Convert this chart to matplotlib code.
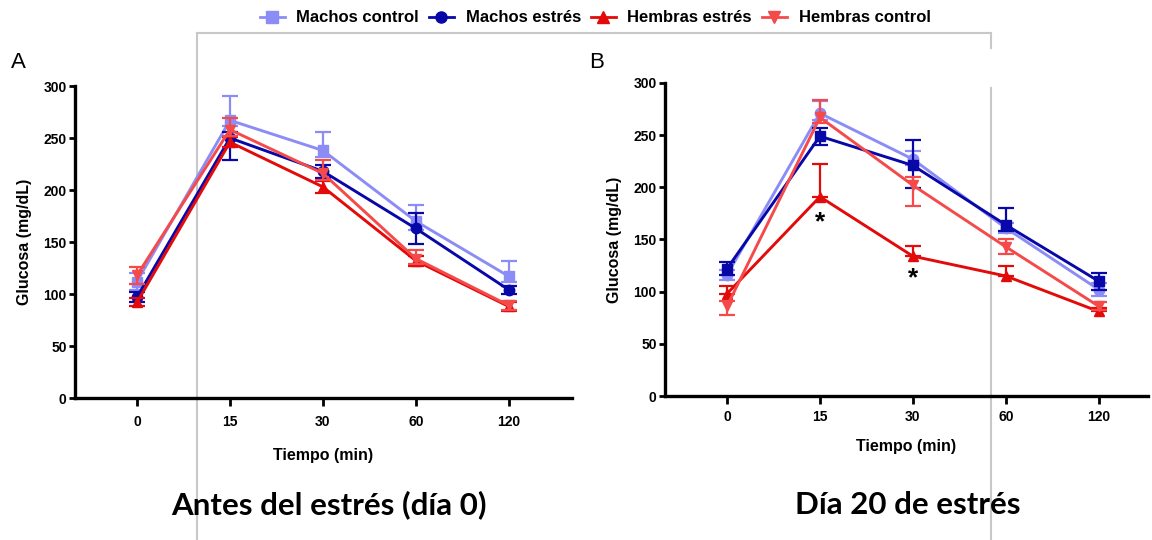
import matplotlib
matplotlib.use("Agg")
import matplotlib.pyplot as plt
from matplotlib.lines import Line2D

# --- data ---------------------------------------------------------------
tiempos = ["0", "15", "30", "60", "120"]

# panel A: antes del estrés (día 0)
a_mc = [112, 267, 238, 170, 117]
a_mc_lo = [8, 5, 6, 8, 5]
a_mc_hi = [8, 23, 18, 16, 15]
a_me = [97, 250, 218, 163, 104]
a_me_lo = [5, 21, 6, 15, 4]
a_me_hi = [5, 6, 6, 15, 4]
a_he = [92, 246, 203, 132, 88]
a_he_lo = [4, 5, 6, 5, 4]
a_he_hi = [4, 5, 6, 5, 4]
a_hc = [118, 258, 216, 134, 89]
a_hc_lo = [8, 6, 6, 5, 4]
a_hc_hi = [8, 11, 13, 8, 4]

# panel B: día 20 de estrés
b_mc = [116, 271, 227, 161, 102]
b_mc_lo = [5, 6, 6, 5, 6]
b_mc_hi = [5, 12, 8, 5, 6]
b_me = [122, 249, 221, 164, 110]
b_me_lo = [6, 8, 22, 6, 8]
b_me_hi = [6, 8, 24, 16, 8]
b_he = [98, 191, 134, 115, 81]
b_he_lo = [0, 0, 0, 0, 0]
b_he_hi = [7, 31, 10, 10, 3]
b_hc = [86, 267, 202, 143, 86]
b_hc_lo = [8, 5, 20, 7, 4]
b_hc_hi = [5, 17, 8, 7, 4]

asteriscos_x = [1, 2]
asteriscos_y = [166, 113]

# --- style --------------------------------------------------------------
LIGHT_BLUE = "#8C8CF7"
DARK_BLUE = "#0808A8"
RED = "#E30A0A"
LIGHT_RED = "#F54A4A"
FRAME = "#C8C8C8"

plt.rcParams.update({
    "font.family": ["Liberation Sans", "DejaVu Sans"],
    "font.weight": "bold",
    "axes.linewidth": 2.4,
    "xtick.major.width": 2.0,
    "ytick.major.width": 2.0,
    "xtick.major.size": 6,
    "ytick.major.size": 4,
})

fig = plt.figure(figsize=(11.52, 5.4), dpi=100)

W, H = 1152, 540
ax_a = fig.add_axes([75 / W, 1 - 398 / H, (572 - 75) / W, 312 / H])
ax_b = fig.add_axes([665 / W, 1 - 396 / H, (1148 - 665) / W, 313 / H])


def draw(ax, series, xlim, tickpad, labelpad):
    x = list(range(len(tiempos)))
    for vals, lo, hi, color, marker, z in series:
        ax.errorbar(x, vals, yerr=[lo, hi], color=color, marker=marker, ms=7.5,
                    lw=2.1, elinewidth=1.6, capsize=5.5, capthick=1.6, zorder=z)
    ax.set_facecolor("none")
    ax.set_xlim(*xlim)
    ax.set_ylim(0, 300)
    ax.set_yticks([0, 50, 100, 150, 200, 250, 300])
    ax.set_xticks(x)
    ax.set_xticklabels(tiempos)
    ax.spines["top"].set_visible(False)
    ax.spines["right"].set_visible(False)
    ax.tick_params(axis="y", labelsize=10, pad=2)
    ax.tick_params(axis="x", labelsize=10, pad=tickpad)
    ax.set_ylabel("Glucosa (mg/dL)", fontsize=11.5, fontweight="bold", labelpad=8)
    ax.set_xlabel("Tiempo (min)", fontsize=11.5, fontweight="bold", labelpad=labelpad)


draw(ax_a, [
    (a_mc, a_mc_lo, a_mc_hi, LIGHT_BLUE, "s", 3),
    (a_me, a_me_lo, a_me_hi, DARK_BLUE, "o", 4),
    (a_he, a_he_lo, a_he_hi, RED, "^", 5),
    (a_hc, a_hc_lo, a_hc_hi, LIGHT_RED, "v", 6),
], (-0.667, 4.68), 6, 14)

draw(ax_b, [
    (b_mc, b_mc_lo, b_mc_hi, LIGHT_BLUE, "o", 3),
    (b_me, b_me_lo, b_me_hi, DARK_BLUE, "s", 4),
    (b_he, b_he_lo, b_he_hi, RED, "^", 5),
    (b_hc, b_hc_lo, b_hc_hi, LIGHT_RED, "v", 6),
], (-0.667, 4.53), 4, 11)

for xs, ys in zip(asteriscos_x, asteriscos_y):
    ax_b.text(xs, ys, "*", fontsize=19, ha="center", va="center", color="black",
              fontweight="bold")

# panel letters
fig.text(18 / W, 1 - 63 / H, "A", fontsize=16, fontweight="normal", ha="center", va="center")
fig.text(597 / W, 1 - 63 / H, "B", fontsize=16, fontweight="normal", ha="center", va="center")

# bottom titles
fig.text(329 / W, 1 - 505 / H, "Antes del estrés (día 0)", fontsize=22.5, fontweight="bold",
         family="Lato", ha="center", va="center")
fig.text(908 / W, 1 - 505 / H, "Día 20 de estrés", fontsize=22.5, fontweight="bold",
         family="Lato", ha="center", va="center")

# legend
handles = [
    Line2D([], [], color=LIGHT_BLUE, marker="s", ms=8, lw=2),
    Line2D([], [], color=DARK_BLUE, marker="o", ms=8, lw=2),
    Line2D([], [], color=RED, marker="^", ms=8, lw=2),
    Line2D([], [], color=LIGHT_RED, marker="v", ms=8, lw=2),
]
labels = ["Machos control", "Machos estrés", "Hembras estrés", "Hembras control"]
fig.legend(handles, labels, loc="center", bbox_to_anchor=(595 / W, 1 - 18 / H), ncol=4,
           frameon=False, fontsize=12, handlelength=1.5, columnspacing=0.6,
           handletextpad=0.7, borderpad=0)


# faint frame around the centre
def px(x, y):
    return x / W, 1 - y / H


for (x0, y0), (x1, y1) in [((197, 33), (197, 540)), ((197, 33), (991, 33)),
                           ((991, 33), (991, 48)), ((991, 88), (991, 540))]:
    p0, p1 = px(x0, y0), px(x1, y1)
    fig.add_artist(Line2D([p0[0], p1[0]], [p0[1], p1[1]], color=FRAME, lw=1.5,
                          transform=fig.transFigure, zorder=0))

fig.savefig("out.png", dpi=100)
